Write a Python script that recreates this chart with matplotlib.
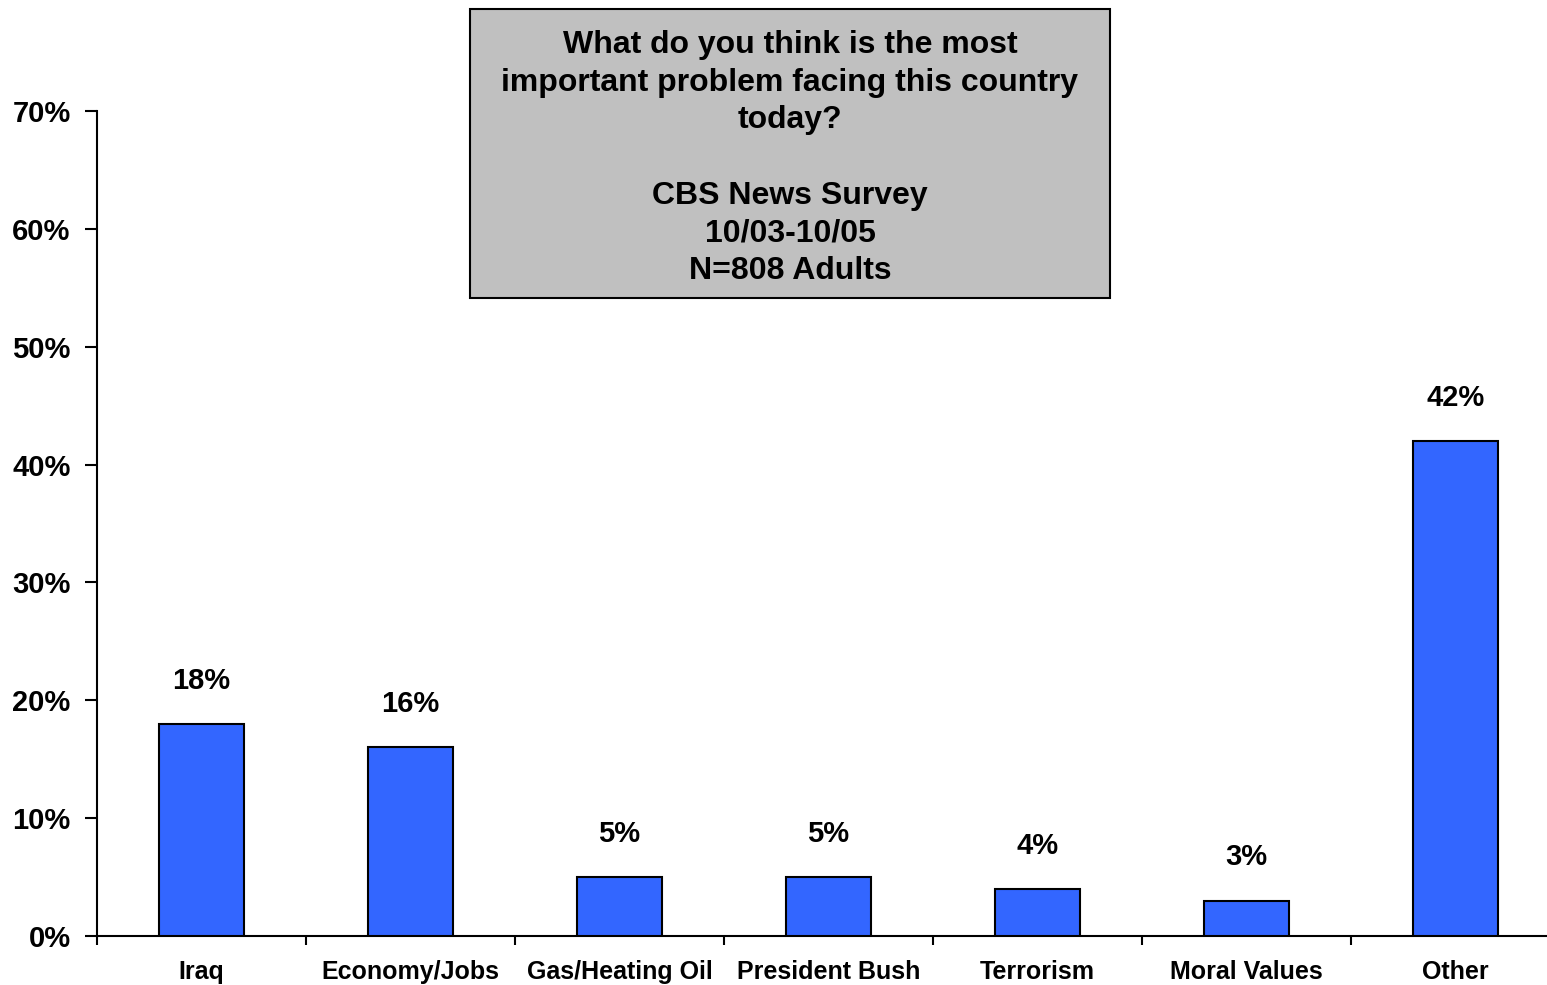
import matplotlib
matplotlib.use("Agg")
import matplotlib.pyplot as plt
from matplotlib.patches import Rectangle
from matplotlib.ticker import FuncFormatter, FixedLocator, NullFormatter

# survey results (percent)
categories = ["Iraq", "Economy/Jobs", "Gas/Heating Oil", "President Bush",
              "Terrorism", "Moral Values", "Other"]
values = [18, 16, 5, 5, 4, 3, 42]
yticks = [0, 10, 20, 30, 40, 50, 60, 70]

title_text = ("What do you think is the most\n"
              "important problem facing this country\n"
              "today?\n\n"
              "CBS News Survey\n"
              "10/03-10/05\n"
              "N=808 Adults")

plt.rcParams['font.family'] = ['Liberation Sans', 'DejaVu Sans']
plt.rcParams['font.weight'] = 'bold'

W, H = 1547, 985
fig = plt.figure(figsize=(W / 100, H / 100), dpi=100)
# axes extends past the right edge of the picture like the original
ax = fig.add_axes([97/W, 49/H, 1463/W, 825/H])

x = range(len(categories))
ax.bar(x, values, width=0.405, color='#3366FF', edgecolor='black', linewidth=1.5, zorder=3)

for i, v in enumerate(values):
    ax.annotate(f"{v}%", (i, v), xytext=(0, 21), textcoords='offset points',
                ha='center', va='bottom', fontsize=21, fontweight='bold')

ax.set_xlim(-0.5, 6.5)
ax.set_ylim(0, 70)
ax.set_yticks(yticks)
ax.yaxis.set_major_formatter(FuncFormatter(lambda v, p: f"{int(v)}%"))
ax.tick_params(axis='y', direction='out', length=9, width=1.5, labelsize=21, pad=10)

# ticks on category boundaries, labels in the middle
ax.xaxis.set_major_locator(FixedLocator([i - 0.5 for i in range(len(categories) + 1)]))
ax.xaxis.set_major_formatter(NullFormatter())
ax.xaxis.set_minor_locator(FixedLocator(list(x)))
ax.set_xticklabels(categories, minor=True)
ax.tick_params(axis='x', which='major', direction='out', length=6.5, width=1.5)
ax.tick_params(axis='x', which='minor', length=0, labelsize=18, pad=17)
for lbl in ax.get_xticklabels(minor=True):
    lbl.set_fontweight('bold')
for lbl in ax.get_yticklabels():
    lbl.set_fontweight('bold')

ax.spines['top'].set_visible(False)
ax.spines['right'].set_visible(False)
ax.spines['left'].set_linewidth(1.5)
ax.spines['bottom'].set_linewidth(1.5)

# grey title box
fig.patches.append(Rectangle((470/W, 1 - 298/H), 640/W, 289/H, transform=fig.transFigure,
                             facecolor='#C0C0C0', edgecolor='black', linewidth=1.5))
fig.text(790/W, 1 - 158/H, title_text, ha='center', va='center',
         fontsize=23, fontweight='bold', linespacing=1.33)

fig.savefig("out.png", dpi=100)
